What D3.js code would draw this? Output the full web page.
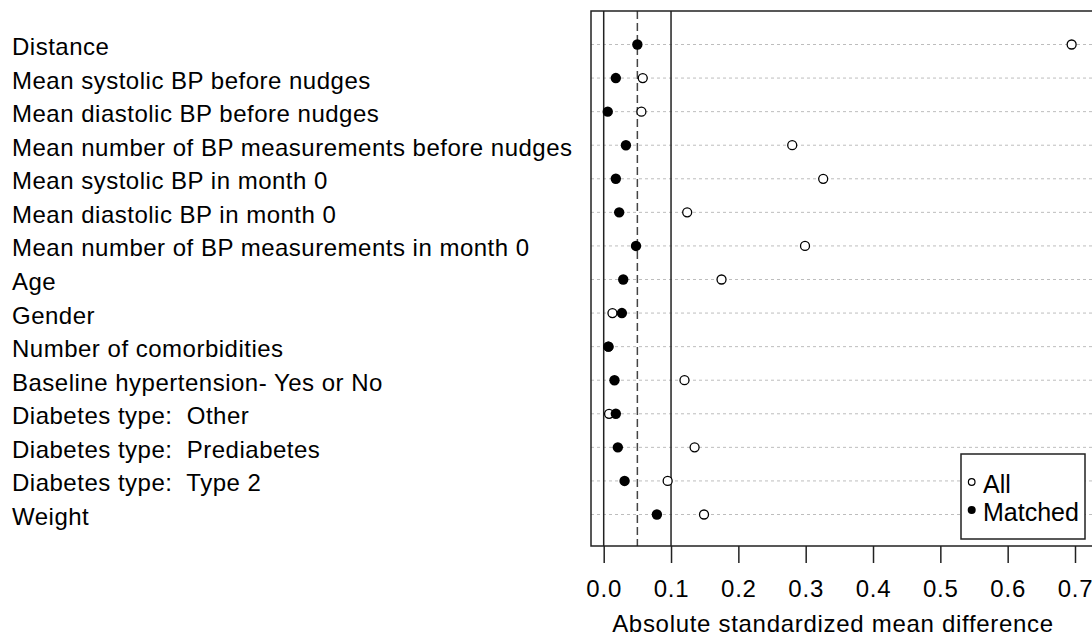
<!DOCTYPE html>
<html>
<head>
<meta charset="utf-8">
<script src="https://cdn.jsdelivr.net/npm/d3@7"></script>
<style>
  body { margin: 0; background: #fff; }
  svg { display: block; font-family: Arial, "Liberation Sans", sans-serif; }
</style>
</head>
<body>
<div id="chart"></div>
<script>
// covariates, top to bottom
const covariates = [
    "Distance",
    "Mean systolic BP before nudges",
    "Mean diastolic BP before nudges",
    "Mean number of BP measurements before nudges",
    "Mean systolic BP in month 0",
    "Mean diastolic BP in month 0",
    "Mean number of BP measurements in month 0",
    "Age",
    "Gender",
    "Number of comorbidities",
    "Baseline hypertension- Yes or No",
    "Diabetes type:  Other",
    "Diabetes type:  Prediabetes",
    "Diabetes type:  Type 2",
    "Weight"
];
// absolute standardized mean differences
const allValues = [0.695, 0.058, 0.056, 0.280, 0.326, 0.124, 0.299, 0.175, 0.013, 0.007, 0.120, 0.008, 0.135, 0.095, 0.149];
const matchedValues = [0.050, 0.018, 0.006, 0.033, 0.018, 0.023, 0.048, 0.029, 0.027, 0.007, 0.016, 0.018, 0.021, 0.031, 0.079];
const xTicks = [0, 0.1, 0.2, 0.3, 0.4, 0.5, 0.6, 0.7];
const refLines = [0, 0.1];
const dashedLine = 0.05;
const legendLabels = ["All", "Matched"];

var width = 1092, height = 637;
var box = { left: 591, top: 11, bottom: 546, right: 1100 };

var svg = d3.select("#chart").append("svg")
    .attr("width", width)
    .attr("height", height);

var x = d3.scaleLinear().domain([0, 0.7]).range([603.7, 1075]);
var y = d3.scalePoint().domain(covariates).range([44.5, 514.5]);

// grid lines
svg.append("g").selectAll("line")
    .data(covariates)
    .enter()
    .append("line")
    .attr("x1", box.left)
    .attr("x2", width)
    .attr("y1", d => y(d))
    .attr("y2", d => y(d))
    .attr("stroke", "#bdbdbd")
    .attr("stroke-width", 1)
    .attr("stroke-dasharray", "3,3");

// reference lines
svg.append("g").selectAll("line")
    .data(refLines)
    .enter()
    .append("line")
    .attr("x1", d => x(d))
    .attr("x2", d => x(d))
    .attr("y1", box.top)
    .attr("y2", box.bottom)
    .attr("stroke", "#222")
    .attr("stroke-width", 1.5);

svg.append("line")
    .attr("x1", x(dashedLine))
    .attr("x2", x(dashedLine))
    .attr("y1", box.top)
    .attr("y2", box.bottom)
    .attr("stroke", "#444")
    .attr("stroke-width", 1.5)
    .attr("stroke-dasharray", "8,4");

// box
svg.append("path")
    .attr("d", `M${box.right},${box.top}H${box.left}V${box.bottom}H${box.right}`)
    .attr("fill", "none")
    .attr("stroke", "#222")
    .attr("stroke-width", 1.5);

// labels
svg.append("g").selectAll("text")
    .data(covariates)
    .enter()
    .append("text")
    .attr("x", 12)
    .attr("y", d => y(d) + 2)
    .attr("dominant-baseline", "central")
    .attr("font-size", 24)
    .attr("letter-spacing", 0.5)
    .attr("fill", "#000")
    .style("white-space", "pre")
    .text(d => d);

// points: all (open) then matched (filled)
svg.append("g").selectAll("circle")
    .data(allValues)
    .enter()
    .append("circle")
    .attr("cx", d => x(d))
    .attr("cy", (d, i) => y(covariates[i]))
    .attr("r", 4.5)
    .attr("fill", "#fff")
    .attr("stroke", "#000")
    .attr("stroke-width", 1.3);

svg.append("g").selectAll("circle")
    .data(matchedValues)
    .enter()
    .append("circle")
    .attr("cx", d => x(d))
    .attr("cy", (d, i) => y(covariates[i]))
    .attr("r", 5.2)
    .attr("fill", "#000");

// x axis
var xAxis = d3.axisBottom(x)
    .tickValues(xTicks)
    .tickSize(17)
    .tickPadding(17)
    .tickFormat(d3.format(".1f"));

var axisG = svg.append("g")
    .attr("transform", `translate(0,${box.bottom})`)
    .call(xAxis);
axisG.select(".domain").remove();
axisG.selectAll(".tick line").attr("stroke", "#222").attr("stroke-width", 1.5);
axisG.selectAll(".tick text")
    .attr("font-size", 24)
    .attr("letter-spacing", 0.8)
    .attr("font-family", "Arial, 'Liberation Sans', sans-serif")
    .attr("fill", "#000");

svg.append("text")
    .attr("x", 833)
    .attr("y", 632)
    .attr("text-anchor", "middle")
    .attr("font-size", 24)
    .attr("letter-spacing", 0.7)
    .attr("fill", "#000")
    .text("Absolute standardized mean difference");

// legend
var lg = svg.append("g");
lg.append("rect")
    .attr("x", 961)
    .attr("y", 454)
    .attr("width", 124)
    .attr("height", 85)
    .attr("fill", "#fff")
    .attr("stroke", "#222")
    .attr("stroke-width", 1.5);

lg.selectAll("text")
    .data(legendLabels)
    .enter()
    .append("text")
    .attr("x", 983)
    .attr("y", (d, i) => 484 + i * 28)
    .attr("dominant-baseline", "central")
    .attr("font-size", 25)
    .attr("fill", "#000")
    .text(d => d);

lg.append("circle")
    .attr("cx", 971.7)
    .attr("cy", 482)
    .attr("r", 3.3)
    .attr("fill", "#fff")
    .attr("stroke", "#000")
    .attr("stroke-width", 1.2);
lg.append("circle")
    .attr("cx", 971.7)
    .attr("cy", 510)
    .attr("r", 4)
    .attr("fill", "#000");
</script>
</body>
</html>
